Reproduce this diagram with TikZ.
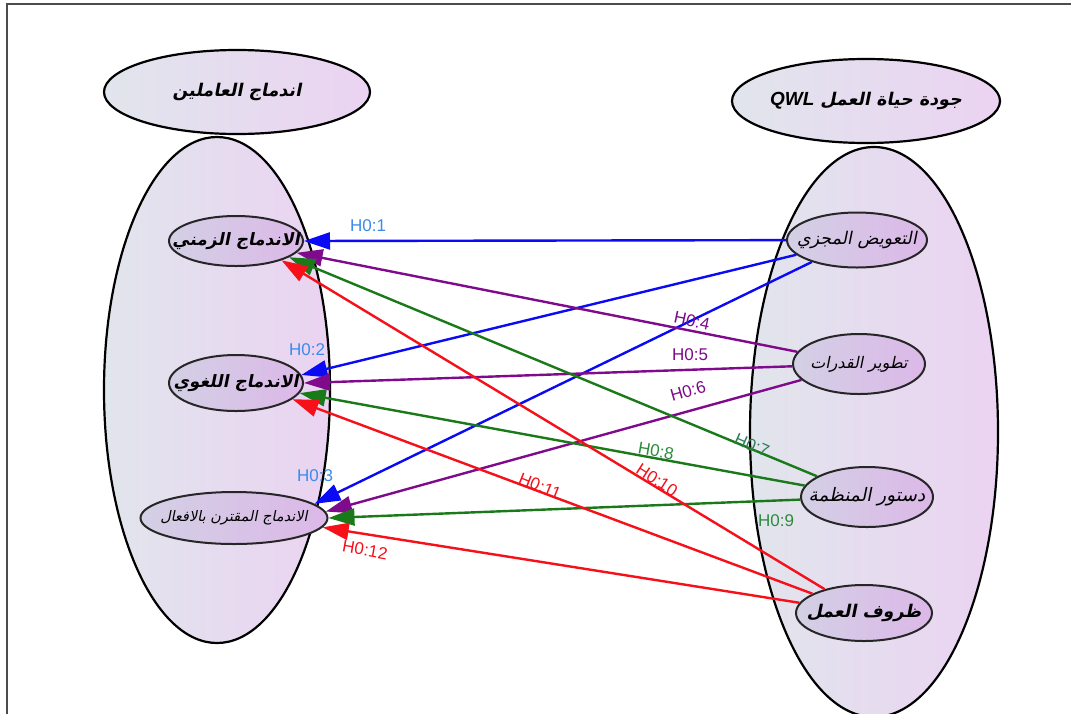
\documentclass[tikz,border=0pt]{standalone}
\usepackage{fontspec}
\setmainfont{Liberation Sans}
\usetikzlibrary{shapes.geometric,arrows.meta}
\TeXXeTstate=1
\newfontfamily\arabicfont[Script=Arabic,FakeSlant=0.2]{DejaVu Sans}
\definecolor{bgA}{HTML}{E1E5EC}
\definecolor{bgB}{HTML}{EBD3F2}
\definecolor{inA}{HTML}{D3D0E5}
\definecolor{inB}{HTML}{DCB8E8}
\definecolor{eblue}{HTML}{0A0AF5}
\definecolor{lblue}{HTML}{3B8BEB}
\definecolor{epurple}{HTML}{800A8C}
\definecolor{egreen}{HTML}{1A7A1A}
\definecolor{lgreen}{HTML}{2E8B3E}
\definecolor{lteal}{HTML}{2E7D5A}
\definecolor{ered}{HTML}{F5101A}
\tikzset{
  bigell/.style={ellipse, draw=black, line width=2.2pt, inner sep=0pt, left color=bgA, right color=bgB},
  inell/.style={ellipse, draw=black!85, line width=2pt, inner sep=0pt, left color=inA, right color=inB},
  conn/.style={line width=2.4pt, -{Triangle[length=26pt,width=17pt]}},
  hlabel/.style={font=\fontsize{17}{17}\selectfont, inner sep=0pt},
  artext/.style={inner sep=0pt},
}
\begin{document}
\begin{tikzpicture}[x=1pt,y=-1pt]
\useasboundingbox (0,0) rectangle (1071,713);
\fill[white] (0,0) rectangle (1071,713);
\draw[line width=2pt, black!70] (7,720) -- (7,4) -- (1080,4);

% big ellipses
\node[bigell, minimum width=226pt, minimum height=506pt] (bigL) at (217,390) {};
\node[bigell, minimum width=248pt, minimum height=570pt] (bigR) at (874,432) {};
% titles
\node[bigell, minimum width=266pt, minimum height=84pt] (titleL) at (237,92) {};
\node[artext] (titleLt) at (titleL) {\arabicfont\bfseries\fontsize{17.5}{17.5}\selectfont\beginR اندماج العاملين\endR};
\node[bigell, minimum width=268pt, minimum height=84pt] (titleR) at (866,101) {};
\node[artext] (titleRt) at (titleR) {\arabicfont\bfseries\fontsize{17.5}{17.5}\selectfont\beginR جودة حياة العمل \beginL{\normalfont\bfseries\itshape\fontsize{19}{19}\selectfont QWL}\endL\endR};

% inner nodes left
\node[inell, minimum width=134pt, minimum height=50pt] (l1) at (236,241) {};
\node[artext] (l1t) at (l1) {\arabicfont\bfseries\fontsize{17}{17}\selectfont\beginR الاندماج الزمني\endR};
\node[inell, minimum width=134pt, minimum height=56pt] (l2) at (236,383) {};
\node[artext] (l2t) at (l2) {\arabicfont\bfseries\fontsize{17}{17}\selectfont\beginR الاندماج اللغوي\endR};
\node[inell, minimum width=187pt, minimum height=52pt] (l3) at (234,518) {};
\node[artext] (l3t) at (l3) {\arabicfont\fontsize{14.5}{14.5}\selectfont\beginR الاندماج المقترن بالافعال\endR};
% inner nodes right
\node[inell, minimum width=140pt, minimum height=55pt] (r1) at (857,240) {};
\node[artext] (r1t) at (r1) {\arabicfont\fontsize{17.5}{17.5}\selectfont\beginR التعويض المجزي\endR};
\node[inell, minimum width=132pt, minimum height=60pt] (r2) at (859,364) {};
\node[artext] (r2t) at (r2) {\arabicfont\fontsize{16}{16}\selectfont\beginR تطوير القدرات\endR};
\node[inell, minimum width=132pt, minimum height=60pt] (r3) at (867,497) {};
\node[artext] (r3t) at (r3) {\arabicfont\fontsize{18.5}{18.5}\selectfont\beginR دستور المنظمة\endR};
\node[inell, minimum width=136pt, minimum height=56pt] (r4) at (864,613) {};
\node[artext] (r4t) at (r4) {\arabicfont\bfseries\fontsize{17.5}{17.5}\selectfont\beginR ظروف العمل\endR};

% connectors
\draw[conn, eblue] (r1) -- (l1.0);
\draw[conn, eblue] (r1) -- (l2.7);
\draw[conn, eblue] (r1) -- (l3.10);
\draw[conn, epurple] (r2) -- (l1.-11);
\draw[conn, epurple] (r2) -- (l2.0);
\draw[conn, epurple] (r2) -- (l3.4);
\draw[conn, egreen] (r3) -- (l1.-17);
\draw[conn, egreen] (r3) -- (l2.-9);
\draw[conn, egreen] (r3) -- (l3.0);
\draw[conn, ered] (r4) -- (l1.-23);
\draw[conn, ered] (r4) -- (l2.-16);
\draw[conn, ered] (r4) -- (l3.-6);

% labels
\node[hlabel, text=lblue] (h1) at (368,226) {H0:1};
\node[hlabel, text=lblue] (h2) at (307,350) {H0:2};
\node[hlabel, text=lblue] (h3) at (315,476) {H0:3};
\node[hlabel, text=epurple, rotate=-12] (h4) at (692,321) {H0:4};
\node[hlabel, text=epurple] (h5) at (690,355) {H0:5};
\node[hlabel, text=epurple, rotate=16] (h6) at (688,391) {H0:6};
\node[hlabel, text=lteal, rotate=-24] (h7) at (752,445) {H0:7};
\node[hlabel, text=lgreen, rotate=-10] (h8) at (656,451) {H0:8};
\node[hlabel, text=lgreen] (h9) at (776,521) {H0:9};
\node[hlabel, text=ered, rotate=-33] (h10) at (657,480) {H0:10};
\node[hlabel, text=ered, rotate=-22] (h11) at (540,486) {H0:11};
\node[hlabel, text=ered, rotate=-10] (h12) at (365,550) {H0:12};
\end{tikzpicture}
\end{document}
